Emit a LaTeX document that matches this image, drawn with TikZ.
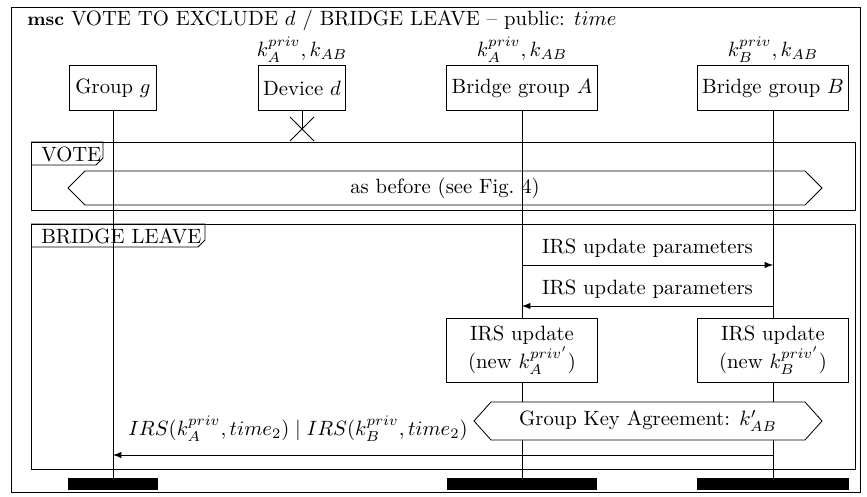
\documentclass[tikz,border=0pt]{standalone}
\usetikzlibrary{positioning}
\tikzset{
  inst/.style={draw, fill=white, minimum height=0.764cm, inner sep=2pt},
  act/.style={draw, fill=white, minimum width=2.553cm, minimum height=1.09cm, align=center, inner sep=2pt},
  endbar/.style={fill=black, minimum height=0.1875cm, inner sep=0pt},
  keys/.style={inner sep=0pt},
}
\begin{document}
\begin{tikzpicture}[x=0.0170cm, y=-0.0170cm]
        \useasboundingbox (0, 0) rectangle (867, 496);
        \draw (11, 7) rectangle (860, 492);
        \node[anchor=base west] (title) at (20, 26) {\textbf{\small msc} VOTE TO EXCLUDE $d$ / BRIDGE LEAVE -- public: $time$};
        \node[inst, minimum width=1.48cm] (g) at (113, 88) {Group $g$};
        \node[inst, minimum width=1.48cm] (d) at (302, 88) {Device $d$};
        \node[inst, minimum width=2.553cm] (a) at (522, 88) {Bridge group $A$};
        \node[inst, minimum width=2.568cm] (b) at (773, 88) {Bridge group $B$};
        \node[keys, above=1pt of d] (dkeys) {$k_A^{priv}, k_{AB}$};
        \node[keys, above=1pt of a] (akeys) {$k_A^{priv}, k_{AB}$};
        \node[keys, above=1pt of b] (bkeys) {$k_B^{priv}, k_{AB}$};
        \node[endbar, minimum width=1.514cm] (gend) at (113, 484) {};
        \node[endbar, minimum width=2.553cm] (aend) at (522, 484) {};
        \node[endbar, minimum width=2.568cm] (bend) at (773, 484) {};
        \draw (g) -- (gend);
        \draw (a) -- (aend);
        \draw (b) -- (bend);
        \coordinate (dstop) at (302, 129);
        \draw (d) -- (dstop);
        \draw (dstop) ++(-12, -12) -- ++(24, 24);
        \draw (dstop) ++(12, -12) -- ++(-24, 24);
        \draw (31, 142) rectangle (855, 210);
        \draw (31, 142) -- (103, 142) -- (103, 158) -- (96, 165) -- (31, 165);
        \node[anchor=base west] (votetag) at (34, 161) {VOTE};
        \draw (68, 188) -- (85, 171) -- (805, 171) -- (822, 188) -- (805, 205) -- (85, 205) -- cycle;
        \node (vote) at (445, 188) {as before (see Fig.~4)};
        \draw (31, 224) rectangle (855, 469);
        \draw (31, 224) -- (205, 224) -- (205, 240) -- (198, 247) -- (31, 247);
        \node[anchor=base west] (leavetag) at (34, 243) {BRIDGE LEAVE};
        \coordinate (a1) at (522, 265);
        \coordinate (b1) at (773, 265);
        \draw[-latex] (a1) -- node[above] {IRS update parameters} (b1);
        \coordinate (b2) at (773, 306);
        \coordinate (a2) at (522, 306);
        \draw[-latex] (b2) -- node[above] {IRS update parameters} (a2);
        \node[act] (aupd) at (522, 350) {IRS update\\(new $k_A^{priv'}$)};
        \node[act, minimum width=2.568cm] (bupd) at (773, 350) {IRS update\\(new $k_B^{priv'}$)};
        \draw[fill=white] (474, 421) -- (491, 402) -- (805, 402) -- (822, 421) -- (805, 440) -- (491, 440) -- cycle;
        \node (gka) at (648, 421) {Group Key Agreement: $k'_{AB}$};
        \coordinate (b3) at (773, 455);
        \coordinate (g3) at (113, 455);
        \draw[-latex] (b3) -- (g3);
        \node[anchor=base west] (irs) at (121, 435) {$IRS(k_A^{priv}, time_2) \mid IRS(k_B^{priv}, time_2)$};
    \end{tikzpicture}
\end{document}
